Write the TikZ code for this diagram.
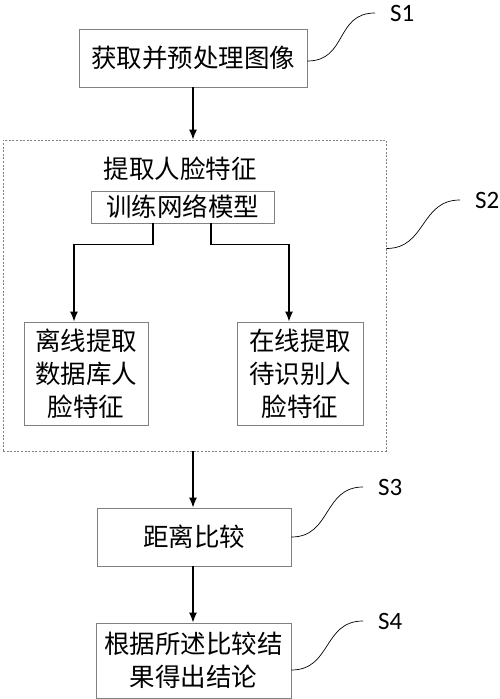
\documentclass[tikz,border=0pt]{standalone}
\usepackage{fontspec}
\newfontfamily\cjk{Noto Sans CJK SC}
\setsansfont{Carlito}
\usetikzlibrary{arrows.meta,positioning,calc}
\tikzset{
  cjktext/.style={font=\cjk\fontsize{25.5}{33}\selectfont},
  stepbox/.style={cjktext, draw=gray, line width=0.9pt, align=center, inner sep=0pt, fill=white},
  dashbox/.style={draw=gray, line width=0.8pt, dash pattern=on 2pt off 1.6pt, inner sep=0pt},
  line/.style={-{Latex[length=10pt,width=8pt]}, line width=1.3pt},
  tag/.style={anchor=west, inner xsep=15pt, inner ysep=0pt, font=\sffamily\fontsize{25}{25}\selectfont},
  lead/.style={line width=0.7pt}
}
\begin{document}
\begin{tikzpicture}[x=1pt, y=-1pt]
\useasboundingbox (0,0) rectangle (500,699);

\node (acq) [stepbox, minimum width=228pt, minimum height=58pt] at (193,58) {获取并预处理图像};

\node (feat) [dashbox, minimum width=383pt, minimum height=311pt] at (194.5,295.5) {};
\node (title) [cjktext] at (180,169) {提取人脸特征};
\node (train) [stepbox, minimum width=183pt, minimum height=32pt] at (182.5,207) {训练网络模型};
\node (offl) [stepbox, minimum width=124pt, minimum height=103pt] at (86,373.5) {离线提取\\数据库人\\脸特征};
\node (onl) [stepbox, minimum width=126pt, minimum height=103pt] at (300,373.5) {在线提取\\待识别人\\脸特征};

\node (dist) [stepbox, minimum width=194pt, minimum height=58pt] at (194,537) {距离比较};
\node (res) [stepbox, minimum width=195pt, minimum height=75pt] at (193.5,660.5) {根据所述比较结\\果得出结论};

\draw[line] (acq.south) -- (feat.north -| acq.south);
\draw[line] (feat.south -| acq.south) -- (dist.north -| acq.south);
\draw[line] (dist.south -| acq.south) -- (res.north -| acq.south);

\draw[line] ([xshift=-29.5pt]train.south) -- ++(0,21) -| ([xshift=-12pt]offl.north);
\draw[line] ([xshift=28.5pt]train.south) -- ++(0,21) -| ([xshift=-11pt]onl.north);

\node (t1) [tag] at (375,13) {S1};
\node (t2) [tag] at (460,200) {S2};
\node (t3) [tag] at (363,487) {S3};
\node (t4) [tag] at (363,621) {S4};

\foreach \src/\dy/\dst in {acq/-3/t1, feat/47/t2, dist/0/t3, res/-9.5/t4}{
  \draw[lead] ([yshift=\dy pt]\src.east) .. controls +(40,0) and +(-40,0) .. (\dst.west);
}

\end{tikzpicture}
\end{document}
